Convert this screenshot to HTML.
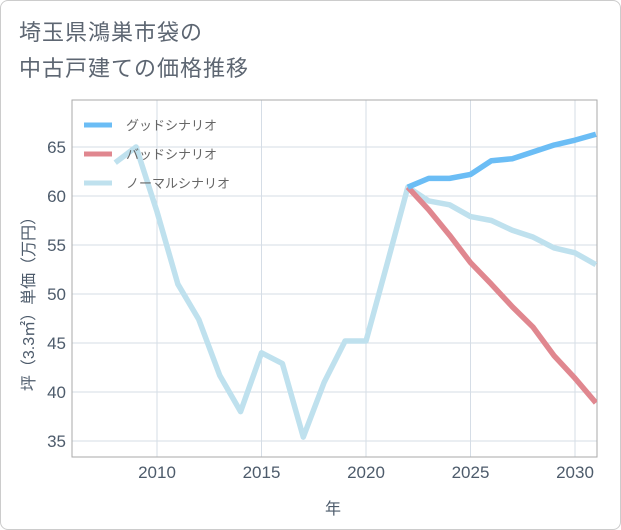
<!DOCTYPE html>
<html><head><meta charset="utf-8"><style>
body{margin:0;background:#fff;}
#wrap{width:619px;height:528px;border:1px solid #ccc;border-radius:8px;position:relative;overflow:hidden;background:#fff;font-family:"Liberation Sans","Noto Sans CJK JP",sans-serif;}
#title{position:absolute;left:18px;top:14px;font-size:22px;line-height:36px;color:#5d6672;letter-spacing:1px;}
</style></head><body>
<div id="wrap">
<div id="title">埼玉県鴻巣市袋の<br>中古戸建ての価格推移</div>
<svg id="chart" width="621" height="530" style="position:absolute;left:-1px;top:-1px"></svg>
</div>
<script>
const normalYears=[2008,2009,2010,2011,2012,2013,2014,2015,2016,2017,2018,2019,2020,2021,2022,2023,2024,2025,2026,2027,2028,2029,2030,2031];
const normalValues=[63.4,65,58.4,51,47.4,41.7,38,44,42.9,35.4,41,45.2,45.2,53,60.9,59.5,59.1,57.9,57.5,56.5,55.8,54.7,54.2,53];
const goodYears=[2022,2023,2024,2025,2026,2027,2028,2029,2030,2031];
const goodValues=[60.9,61.8,61.8,62.2,63.6,63.8,64.5,65.2,65.7,66.3];
const badYears=[2022,2023,2024,2025,2026,2027,2028,2029,2030,2031];
const badValues=[60.9,58.6,56,53.2,51,48.7,46.6,43.7,41.4,38.9];
const xTicks=[2010,2015,2020,2025,2030];
const yTicks=[35,40,45,50,55,60,65];
const NS="http://www.w3.org/2000/svg";
const svg=document.getElementById('chart');
const L=72,R=597,T=100,B=457;
const TXT='#4d5b6b';
const x=v=>157+(v-2010)*20.9;
const y=v=>147+(65-v)*9.8;
function mk(t,a){const e=document.createElementNS(NS,t);for(const k in a)e.setAttribute(k,a[k]);svg.appendChild(e);return e;}
const clip=mk('clipPath',{id:'c'});const cr=document.createElementNS(NS,'rect');cr.setAttribute('x',L);cr.setAttribute('y',T);cr.setAttribute('width',R-L);cr.setAttribute('height',B-T);clip.appendChild(cr);
xTicks.forEach(t=>{const g=mk('line',{x1:x(t),x2:x(t),y1:T,y2:B,stroke:'#d5dde6','stroke-width':1});

const tx=mk('text',{x:x(t),y:478,'text-anchor':'middle','font-size':17,fill:TXT});tx.textContent=t;
});
yTicks.forEach(t=>{const g=mk('line',{x1:L,x2:R,y1:y(t),y2:y(t),stroke:'#d5dde6','stroke-width':1});

const tx=mk('text',{x:66,y:y(t)+6,'text-anchor':'end','font-size':17,fill:TXT});tx.textContent=t;
});
const fr=mk('rect',{x:L,y:T,width:R-L,height:B-T,fill:'none',stroke:'#aaa','stroke-width':1});

function line(xs,vs,c,n){const p=mk('polyline',{points:xs.map((v,i)=>x(v)+','+y(vs[i])).join(' '),fill:'none',stroke:c,'stroke-width':5.5,'stroke-linejoin':'round','clip-path':'url(#c)'});
}
line(normalYears,normalValues,'#bfe1ee','normal-scenario-line');
line(badYears,badValues,'#e0878f','bad-scenario-line');
line(goodYears,goodValues,'#6bbdf5','good-scenario-line');
const leg=[['グッドシナリオ','#6bbdf5',125],['バッドシナリオ','#e0878f',154],['ノーマルシナリオ','#bfe1ee',183]];
leg.forEach(l=>{const s=mk('line',{x1:84,x2:112,y1:l[2],y2:l[2],stroke:l[1],'stroke-width':5});

const t=mk('text',{x:126,y:l[2]+5,'font-size':13,fill:'#666'});t.textContent=l[0];
});
const xt=mk('text',{x:333,y:514,'text-anchor':'middle','font-size':16,fill:TXT});xt.textContent='年';

const yt=mk('text',{x:0,y:0,'text-anchor':'middle','font-size':16,fill:TXT,transform:'translate(34,300) rotate(-90)'});yt.textContent='坪（3.3㎡）単価（万円）';

</script>
</body></html>
